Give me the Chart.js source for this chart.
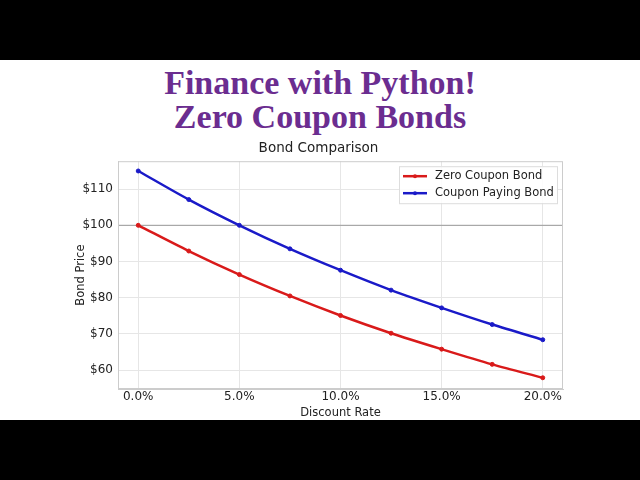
<!DOCTYPE html>
<html>
<head>
<meta charset="utf-8">
<script src="https://cdn.jsdelivr.net/npm/chart.js@4"></script>
<style>
  body { margin: 0; width: 640px; height: 480px; background: #000; position: relative; overflow: hidden; }
  #white { position: absolute; left: 0; top: 60px; width: 640px; height: 360px; background: #fff; }
  .head { position: absolute; left: 0; width: 640px; text-align: center; color: #6b2d90;
          font-family: "Liberation Serif", serif; font-weight: bold; font-size: 34px; }
  #wrap { position: absolute; left: 60px; top: 140px; width: 520px; height: 280px; }
</style>
</head>
<body>
<div id="white"></div>
<div class="head" style="top:64px">Finance with Python!</div>
<div class="head" style="top:98px">Zero Coupon Bonds</div>
<div id="wrap"><canvas id="myChart"></canvas></div>
<script>
// discount rates in %
const rates = [0, 2.5, 5, 7.5, 10, 12.5, 15, 17.5, 20];
const zeroCoupon = [100, 92.9, 86.4, 80.5, 75.1, 70.2, 65.8, 61.6, 57.9];
const couponPaying = [115, 107.1, 100, 93.5, 87.6, 82.1, 77.2, 72.6, 68.4];
const yTicks = [60, 70, 80, 90, 100, 110];
const xTicks = [0, 5, 10, 15, 20];

const font = { family: "DejaVu Sans", size: 12 };
const titleFont = { family: "DejaVu Sans", size: 11.5 };

const refLine = {
  id: "refLine",
  beforeDatasetsDraw(chart) {
    const { ctx, chartArea, scales } = chart;
    const y = scales.y.getPixelForValue(100);
    ctx.save();
    ctx.strokeStyle = "#999";
    ctx.lineWidth = 1;
    ctx.beginPath();
    ctx.moveTo(chartArea.left, y);
    ctx.lineTo(chartArea.right, y);
    ctx.stroke();
    // frame
    ctx.strokeStyle = "#ccc";
    ctx.strokeRect(chartArea.left + 0.5, chartArea.top + 0.5,
      chartArea.right - chartArea.left - 1, chartArea.bottom - chartArea.top - 1);
    ctx.restore();
  },
  afterDraw(chart) {
    // legend box inside top right
    const { ctx, chartArea } = chart;
    const x0 = chartArea.right - 164, y0 = chartArea.top + 5;
    ctx.save();
    ctx.fillStyle = "rgba(255,255,255,0.85)";
    ctx.strokeStyle = "#ddd";
    ctx.fillRect(x0, y0, 158, 37);
    ctx.strokeRect(x0 + 0.5, y0 + 0.5, 158, 37);
    ctx.font = "11.5px DejaVu Sans";
    ctx.textBaseline = "middle";
    chart.data.datasets.forEach((ds, i) => {
      const y = y0 + 10 + i * 17;
      ctx.strokeStyle = ds.borderColor;
      ctx.lineWidth = 2.5;
      ctx.beginPath();
      ctx.moveTo(x0 + 4, y);
      ctx.lineTo(x0 + 28, y);
      ctx.stroke();
      ctx.fillStyle = ds.borderColor;
      ctx.beginPath();
      ctx.arc(x0 + 16, y, 2, 0, Math.PI * 2);
      ctx.fill();
      ctx.fillStyle = "#222";
      ctx.fillText(ds.label, x0 + 36, y);
    });
    ctx.restore();
  }
};

const data = {
  datasets: [
    {
      label: "Zero Coupon Bond",
      data: rates.map((r, i) => ({ x: r, y: zeroCoupon[i] })),
      borderColor: "#d91a1a",
      backgroundColor: "#d91a1a",
    },
    {
      label: "Coupon Paying Bond",
      data: rates.map((r, i) => ({ x: r, y: couponPaying[i] })),
      borderColor: "#1a1ac8",
      backgroundColor: "#1a1ac8",
    },
  ],
};

const options = {
  responsive: true,
  maintainAspectRatio: false,
  animation: false,
  layout: { padding: { left: 14, right: 17 } },
  elements: {
    line: { borderWidth: 2.5, tension: 0.3 },
    point: { radius: 2, hoverRadius: 2 },
  },
  plugins: {
    legend: { display: false },
    tooltip: { enabled: false },
    title: {
      display: true,
      text: "Bond Comparison",
      color: "#222",
      font: { family: "DejaVu Sans", size: 13.5, weight: "normal" },
      padding: { top: 0, bottom: 5 },
    },
  },
  scales: {
    x: {
      type: "linear",
      min: -1,
      max: 21,
      afterBuildTicks: (s) => { s.ticks = xTicks.map((v) => ({ value: v })); },
      afterFit: (s) => { s.height = 31; },
      ticks: { color: "#222", font, padding: 1, callback: (v) => v.toFixed(1) + "%" },
      grid: { color: "#e6e6e6", drawTicks: false },
      border: { color: "#ccc" },
      title: { display: true, text: "Discount Rate", color: "#222", font: titleFont, padding: 0 },
    },
    y: {
      min: 54.8,
      max: 117.7,
      afterBuildTicks: (s) => { s.ticks = yTicks.map((v) => ({ value: v })); },
      afterFit: (s) => { s.width = 44; },
      ticks: { color: "#222", font, padding: 5, callback: (v) => "$" + v },
      grid: { color: "#e6e6e6", drawTicks: false },
      border: { color: "#ccc" },
      title: { display: true, text: "Bond Price", color: "#222", font: titleFont, padding: 0 },
    },
  },
};

new Chart(document.getElementById("myChart"), {
  type: "line",
  data: data,
  options: options,
  plugins: [refLine],
});
</script>
</body>
</html>
